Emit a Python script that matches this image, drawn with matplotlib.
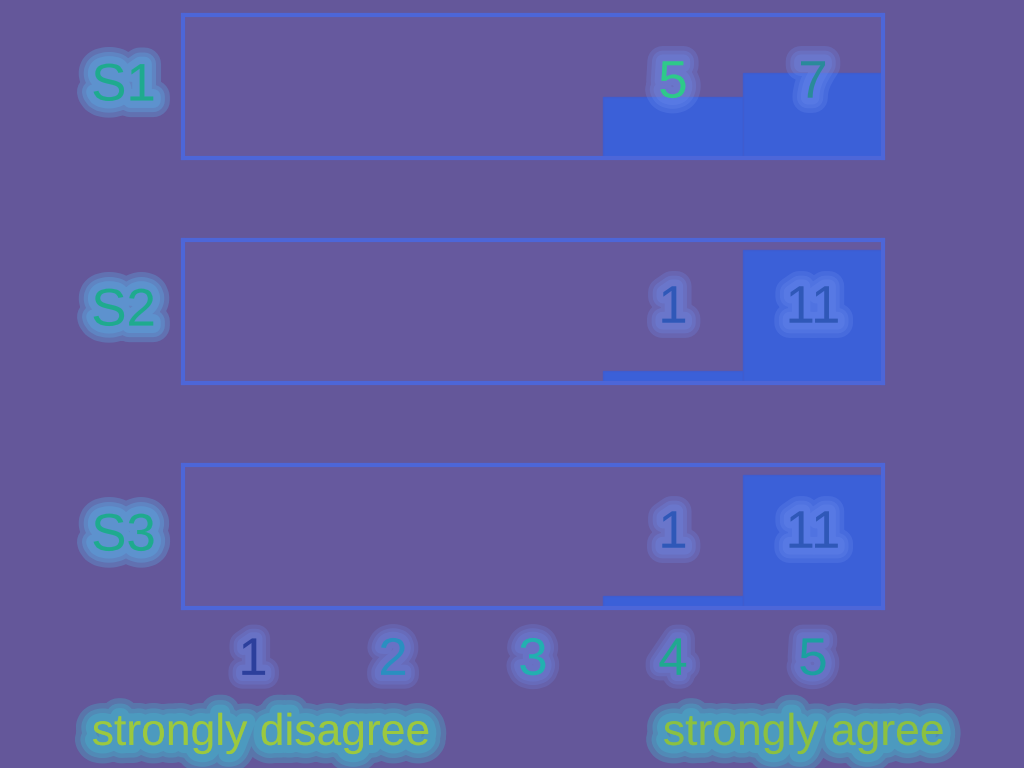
import matplotlib
matplotlib.use("Agg")
import matplotlib.pyplot as plt
import matplotlib.patheffects as pe

# data
statements = ["S1", "S2", "S3"]
scale = [1, 2, 3, 4, 5]
s1_counts = [0, 0, 0, 5, 7]
s2_counts = [0, 0, 0, 1, 11]
s3_counts = [0, 0, 0, 1, 11]
all_counts = [s1_counts, s2_counts, s3_counts]
low_label = "strongly disagree"
high_label = "strongly agree"

bg = "#64579a"
bar_col = "#3b60d8"
edge_col = "#4d66d8"
glow = "#6f8ff0"
txt_green = "#1faa8e"
fam = ["Liberation Sans Narrow", "Liberation Sans", "DejaVu Sans"]


# soft glow: a few wide, faint strokes under the text
def glowing(width, col=glow, a=0.7):
    fx = []
    for f in [1.0, 0.7, 0.45]:
        fx.append(pe.Stroke(linewidth=width * f, foreground=col, alpha=a * 0.3))
    fx.append(pe.Normal())
    return fx


fig = plt.figure(figsize=(10.24, 7.68), dpi=100, facecolor=bg)

# panel positions (figure fractions)
left, width, height = 0.1787, 0.6836, 0.1862
bottoms = [0.7943, 0.5013, 0.2083]

for k in range(len(statements)):
    ax = fig.add_axes([left, bottoms[k], width, height])
    ax.set_facecolor("#66599e")
    counts = all_counts[k]
    ax.bar(scale, counts, width=1.0, color=bar_col, edgecolor="#3f5ccf",
           linewidth=1.0, zorder=2)
    ax.set_xlim(0.5, 5.5)
    ax.set_ylim(0, 11.8)
    ax.set_yticks([])
    for sp in ax.spines.values():
        sp.set_color(edge_col)
        sp.set_linewidth(3)
    for x, c in zip(scale, counts):
        if c > 0:
            col = "#2ec98a" if (k == 0 and x == 4) else "#2f58b8"
            if k == 0 and x == 5:
                col = "#2a8a9a"
            ax.text(x, 0.52, str(c), transform=ax.get_xaxis_transform(),
                    ha="center", va="center", fontsize=38, color=col,
                    family=fam, zorder=3,
                    path_effects=glowing(22, glow, 0.8))
    ax.text(-0.085, 0.5, statements[k], transform=ax.transAxes, ha="center",
            va="center", fontsize=38, color=txt_green, family=fam,
            path_effects=glowing(24, "#5ab8f0", 0.9))
    if k == len(statements) - 1:
        ax.set_xticks(scale)
        ax.set_xticklabels([str(s) for s in scale], fontsize=38, family=fam)
        ax.tick_params(axis="x", length=0, pad=20)
        tick_cols = ["#2c3f9c", "#2a8fc0", "#22b0b0", "#20a890", "#1ca0a0"]
        for lab, c in zip(ax.get_xticklabels(), tick_cols):
            lab.set_color(c)
            lab.set_path_effects(glowing(20, glow, 0.7))
    else:
        ax.set_xticks([])

fig.text(0.255, 0.045, low_label, ha="center", va="center", fontsize=32,
         color="#9cc83e", family=fam, path_effects=glowing(26, "#3fc6d8", 0.9))
fig.text(0.785, 0.045, high_label, ha="center", va="center", fontsize=32,
         color="#8cc040", family=fam, path_effects=glowing(26, "#3fc6d8", 0.9))

fig.savefig("out.png", dpi=100, facecolor=bg)
